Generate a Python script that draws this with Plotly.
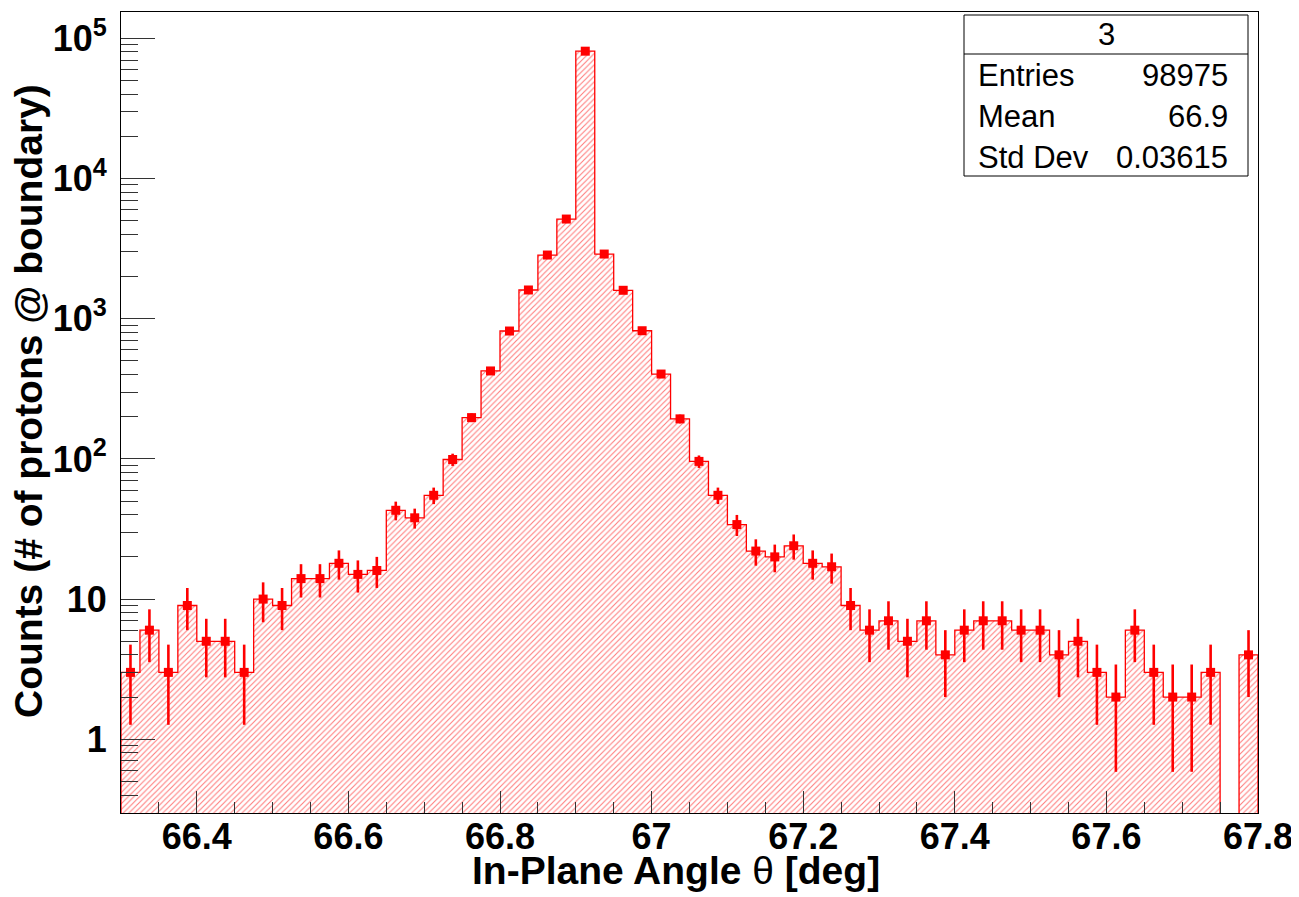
import numpy as np
import plotly.graph_objects as go

# ---------------- data ----------------
x_min = 66.3
x_max = 67.8
bin_width = 0.025
counts = [3, 6, 3, 9, 5, 5, 3, 10, 9, 14,
          14, 18, 15, 16, 43, 38, 55, 99, 197, 424,
          817, 1603, 2846, 5140, 81000, 2893, 1595, 821, 403, 193,
          96, 55, 34, 22, 20, 24, 18, 17, 9, 6,
          7, 5, 7, 4, 6, 7, 7, 6, 6, 4,
          5, 3, 2, 6, 3, 2, 2, 3, 0, 4]
x_tick_vals = [66.4, 66.6, 66.8, 67.0, 67.2, 67.4, 67.6, 67.8]
x_tick_text = ["66.4", "66.6", "66.8", "67", "67.2", "67.4", "67.6", "67.8"]
y_tick_vals = [1, 10, 100, 1000, 10000, 100000]
y_tick_text = ["1", "10", "10<sup>2</sup>", "10<sup>3</sup>", "10<sup>4</sup>", "10<sup>5</sup>"]
stats_title = "3"
stats_labels = ["Entries", "Mean", "Std Dev"]
stats_values = ["98975", "66.9", "0.03615"]

# ---------------- geometry ----------------
OFF = 8  # page body margin
W, H = 1299 - OFF, 897 - OFF
L, R, T, B = 121, 1258, 12, 813  # plot frame in screen pixels
y_lo, y_hi = -0.526, 5.188

counts = np.array(counts, dtype=float)
n = len(counts)
edges = x_min + bin_width * np.arange(n + 1)
centers = edges[:-1] + bin_width / 2
floor = 10 ** (y_lo - 1)

# step outline path
sx, sy = [edges[0]], [floor]
for i, c in enumerate(counts):
    v = c if c > 0 else floor
    sx += [edges[i], edges[i + 1]]
    sy += [v, v]
sx.append(edges[-1])
sy.append(floor)

fig = go.Figure()
fig.add_trace(go.Scatter(
    x=sx, y=sy, mode="lines", fill="toself",
    line=dict(color="#ff0000", width=1.3),
    fillpattern=dict(shape="/", fgcolor="rgba(255,70,70,0.7)", bgcolor="white",
                     fillmode="replace", size=4, solidity=0.28),
    hoverinfo="skip", showlegend=False,
))

mask = counts > 0
err = np.sqrt(counts[mask])
fig.add_trace(go.Scatter(
    x=centers[mask], y=counts[mask], mode="markers",
    marker=dict(symbol="square", size=9, color="#ff0000"),
    error_y=dict(type="data", array=err, arrayminus=err, color="#ff0000",
                 thickness=2.6, width=0),
    showlegend=False,
))

minor_y = [k * 10 ** d for d in range(-1, 6) for k in range(2, 10)
           if y_lo < np.log10(k * 10 ** d) < y_hi]

font_family = "Liberation Sans, Arial, Helvetica, sans-serif"

fig.update_layout(
    width=W, height=H,
    margin=dict(l=L - OFF, r=W + OFF - R, t=T - OFF, b=H + OFF - B),
    paper_bgcolor="white", plot_bgcolor="white",
    font=dict(family=font_family, color="black"),
    xaxis=dict(
        range=[x_min, x_max], showgrid=False, zeroline=False, automargin=False,
        showline=True, linecolor="black", linewidth=1, mirror=True,
        ticks="inside", ticklen=22, tickwidth=1, tickcolor="#333333",
        tickmode="array", tickvals=x_tick_vals, ticktext=x_tick_text,
        tickfont=dict(size=36, weight="bold", family=font_family),
        minor=dict(ticks="inside", ticklen=11, tickwidth=1, tickcolor="#333333",
                   dtick=0.05, tick0=x_min, showgrid=False),
        ticklabelstandoff=-8,
    ),
    yaxis=dict(
        type="log", range=[y_lo, y_hi], showgrid=False, zeroline=False, automargin=False,
        showline=True, linecolor="black", linewidth=1, mirror=True,
        ticks="inside", ticklen=34, tickwidth=1, tickcolor="#333333",
        tickmode="array", tickvals=y_tick_vals, ticktext=y_tick_text,
        tickfont=dict(size=36, weight="bold", family=font_family),
        minor=dict(ticks="inside", ticklen=17, tickwidth=1, tickcolor="#333333",
                   tickmode="array", tickvals=minor_y, showgrid=False),
        ticklabelstandoff=6,
    ),
)

def px_x(p):
    return (p - L) / (R - L)

def px_y(p):
    return (B - p) / (B - T)

# axis titles
fig.add_annotation(text="<b>In-Plane Angle </b>θ<b> [deg]</b>", xref="paper", yref="paper",
                   x=px_x(676), y=px_y(870), showarrow=False,
                   font=dict(size=39, family=font_family), xanchor="center", yanchor="middle")
fig.add_annotation(text="<b>Counts (# of protons @ boundary)</b>", xref="paper", yref="paper",
                   x=px_x(28), y=px_y(401), showarrow=False, textangle=-90,
                   font=dict(size=39, family=font_family), xanchor="center", yanchor="middle")

# stats box
bx0, bx1, by0, by1, bsep = 964, 1248, 15, 176, 54
fig.add_shape(type="rect", xref="paper", yref="paper",
              x0=px_x(bx0), x1=px_x(bx1), y0=px_y(by1), y1=px_y(by0),
              line=dict(color="black", width=1), fillcolor="white", layer="above")
fig.add_shape(type="line", xref="paper", yref="paper",
              x0=px_x(bx0), x1=px_x(bx1), y0=px_y(bsep), y1=px_y(bsep),
              line=dict(color="black", width=1), layer="above")
fig.add_annotation(text=stats_title, xref="paper", yref="paper",
                   x=px_x((bx0 + bx1) / 2), y=px_y(35), showarrow=False,
                   font=dict(size=31, family=font_family), xanchor="center", yanchor="middle")
row_y = [76, 117, 157]
for lab, val, yy in zip(stats_labels, stats_values, row_y):
    fig.add_annotation(text=lab, xref="paper", yref="paper",
                       x=px_x(976), y=px_y(yy), showarrow=False,
                       font=dict(size=31, family=font_family), xanchor="left", yanchor="middle")
    fig.add_annotation(text=val, xref="paper", yref="paper",
                       x=px_x(1230), y=px_y(yy), showarrow=False,
                       font=dict(size=31, family=font_family), xanchor="right", yanchor="middle")

fig.write_html("out.html")
